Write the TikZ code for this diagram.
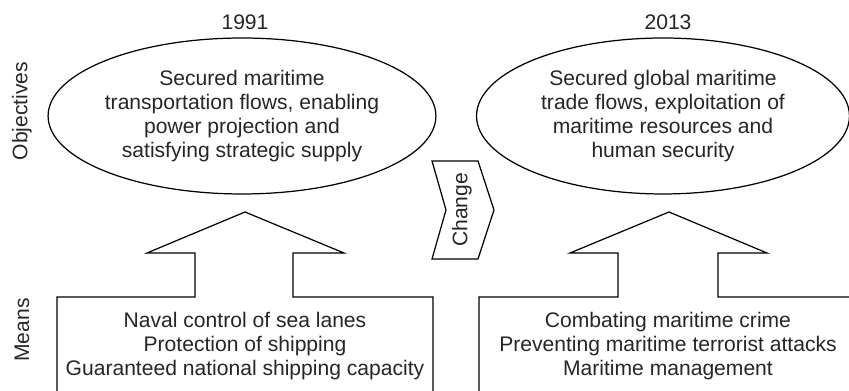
\documentclass[tikz,border=0pt]{standalone}
\usepackage{fontspec}
\setmainfont{Liberation Sans}
\usetikzlibrary{shapes.geometric}

\begin{document}
\begin{tikzpicture}[x=0.02cm, y=0.02cm, line width=0.7pt, text=black!85,
    goal/.style={draw, ellipse, align=center, inner sep=0pt,
      minimum width=7.46cm, minimum height=3.12cm, font=\fontsize{12}{13.6}\selectfont},
    means/.style={align=center, font=\fontsize{12}{13.8}\selectfont},
    year/.style={font=\fontsize{12}{14}\selectfont},
    side/.style={rotate=90, font=\fontsize{12}{14}\selectfont}]
    \useasboundingbox (0,0) rectangle (849,391);
    % years
    \node[year] (y91) at (245,369) {1991};
    \node[year] (y13) at (668,369) {2013};
    % row labels
    \node[side] (objlbl) at (22,280) {Objectives};
    \node[side] (meanlbl) at (22,61) {Means};
    % objectives
    \node[goal] (goal91) at (242,275) {Secured maritime\\transportation flows, enabling\\power projection and\\satisfying strategic supply};
    \node[goal] (goal13) at (663,275) {Secured global maritime\\trade flows, exploitation of\\maritime resources and\\human security};
    % means with their arrows
    \draw (57,0) -- (57,94) -- (195,94) -- (195,138) -- (147,138) -- (245,179)
        -- (344,138) -- (293,138) -- (293,94) -- (433,94) -- (433,0);
    \draw (479,0) -- (479,94) -- (618,94) -- (618,138) -- (570,138) -- (669,179)
        -- (767,138) -- (718,138) -- (718,94) -- (849,94);
    \node[means] (means91) at (245,45) {Naval control of sea lanes\\Protection of shipping\\Guaranteed national shipping capacity};
    \node[means] (means13) at (668,45) {Combating maritime crime\\Preventing maritime terrorist attacks\\Maritime management};
    % change chevron
    \draw (432,230) -- (478,230) -- (494,181) -- (478,132) -- (432,132) -- (446,181) -- cycle;
    \node[side] (chg) at (462,181) {Change};
\end{tikzpicture}
\end{document}
